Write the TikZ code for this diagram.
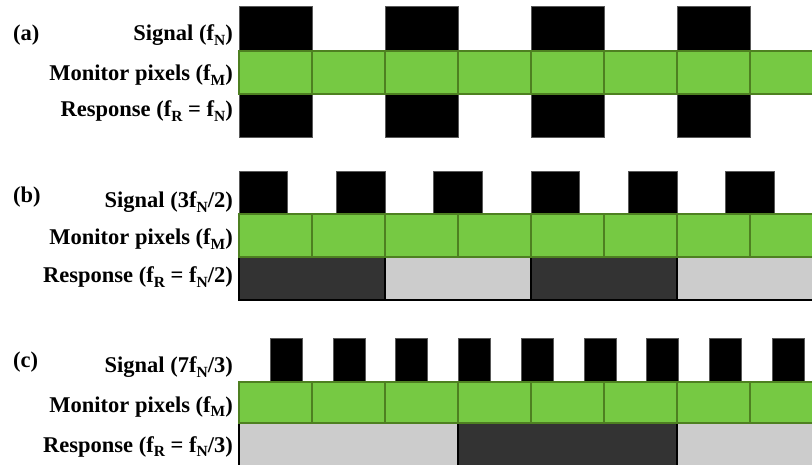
\documentclass[tikz,border=0pt]{standalone}
\usepackage{fontspec}
\setmainfont{Liberation Serif}
\usetikzlibrary{positioning}

\definecolor{pixgreen}{RGB}{118,201,67}
\definecolor{pixedge}{RGB}{78,128,33}
\definecolor{respdark}{RGB}{51,51,51}
\definecolor{resplight}{RGB}{204,204,204}

\newcommand{\fsub}[1]{f\raisebox{-0.2em}{\fontsize{15.5}{16}\selectfont #1}}

\begin{document}
\begin{tikzpicture}[x=1pt, y=-1pt,
    lbl/.style={anchor=base east, inner sep=0pt, font=\bfseries\fontsize{22.5}{27}\selectfont},
    tag/.style={anchor=base west, inner sep=0pt, font=\bfseries\fontsize{22.5}{27}\selectfont},
    sig/.style={fill=black, draw=black!65, line width=0.5pt},
    pix/.style={fill=pixgreen, draw=pixedge, line width=1.4pt},
    rsp/.style={draw=black, line width=2pt}
]
\clip (0,0) rectangle (812,465);

% (a) signal at f_M/2
\foreach \k in {0,...,3} {
  \draw[sig] ({239+146*\k},6) rectangle ++(73,45);
  \draw[sig] ({239+146*\k},94) rectangle ++(73,43);
}
\foreach \k in {0,...,7}
  \draw[pix] ({239+73*\k},51) rectangle ++(73,43);

% (b) signal at 3f_N/2
\foreach \k in {0,...,5}
  \draw[sig] ({239+97.33*\k},171) rectangle ++(48.67,43);
\foreach \x/\c in {239/respdark,385/resplight,531/respdark,677/resplight}
  \draw[rsp, fill=\c] (\x,257) rectangle ++(146,43);
\foreach \k in {0,...,7}
  \draw[pix] ({239+73*\k},214) rectangle ++(73,43);

% (c) signal at 7f_N/3
\foreach \k in {0,...,8}
  \draw[sig] ({270+62.75*\k},338) rectangle ++(32,44);
\foreach \x/\c in {239/resplight,458/respdark,677/resplight}
  \draw[rsp, fill=\c] (\x,423) rectangle ++(219,50);
\foreach \k in {0,...,7}
  \draw[pix] ({239+73*\k},382) rectangle ++(73,41);

% labels
\node[tag] (tag_a) at (13,41) {(a)};
\node[lbl] (sig_a) at (233,41) {Signal (\fsub{N})};
\node[lbl] (mon_a) at (233,81) {Monitor pixels (\fsub{M})};
\node[lbl] (rsp_a) at (233,117) {Response (\fsub{R} = \fsub{N})};

\node[tag] (tag_b) at (13,203) {(b)};
\node[lbl] (sig_b) at (233,208) {Signal (3\fsub{N}/2)};
\node[lbl] (mon_b) at (233,245) {Monitor pixels (\fsub{M})};
\node[lbl] (rsp_b) at (233,283) {Response (\fsub{R} = \fsub{N}/2)};

\node[tag] (tag_c) at (13,367) {(c)};
\node[lbl] (sig_c) at (233,373) {Signal (7\fsub{N}/3)};
\node[lbl] (mon_c) at (233,412) {Monitor pixels (\fsub{M})};
\node[lbl] (rsp_c) at (233,452) {Response (\fsub{R} = \fsub{N}/3)};
\end{tikzpicture}
\end{document}
